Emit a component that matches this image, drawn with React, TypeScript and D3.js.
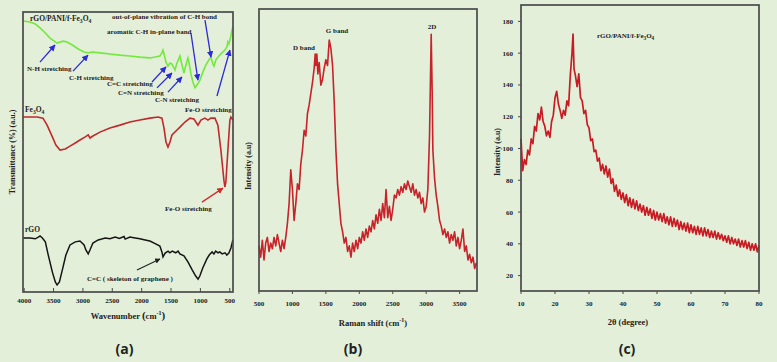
import React, { useEffect, useRef } from 'react'
import * as d3 from 'd3'

// ---- (a) FTIR, [wavenumber cm-1, transmittance a.u.] ----
const ftirComposite: [number, number][] = [
  [4020, 96.8], [3900, 96.4], [3810, 95.7], [3730, 94.3], [3640, 92.5], [3560, 90.7],
  [3470, 89.3], [3440, 88.9], [3390, 89.3], [3340, 89.6], [3270, 89.3], [3180, 88.2],
  [3080, 86.8], [2980, 85.7], [2910, 85.4], [2840, 85.7], [2710, 85.4], [2540, 85.0],
  [2370, 84.6], [2200, 84.3], [2030, 83.9], [1860, 83.6], [1770, 83.9], [1690, 84.3],
  [1655, 85.4], [1637, 86.4], [1620, 85.0], [1586, 82.1], [1552, 80.7], [1518, 81.8],
  [1484, 81.4], [1450, 80.0], [1433, 79.3], [1399, 81.8], [1348, 84.3], [1314, 81.1],
  [1280, 78.2], [1246, 81.1], [1212, 83.6], [1195, 82.1], [1161, 77.9], [1127, 75.0],
  [1093, 72.9], [1059, 73.9], [1008, 75.7], [957, 78.6], [906, 81.1], [855, 82.9],
  [821, 83.9], [787, 81.4], [770, 80.7], [736, 82.9], [685, 84.3], [634, 85.4],
  [583, 86.4], [549, 87.5], [532, 89.3], [515, 88.6], [498, 90.0], [481, 91.4],
  [464, 93.6], [447, 94.6]
]

const ftirFe3O4: [number, number][] = [
  [4020, 62.5], [3900, 62.5], [3780, 62.5], [3680, 62.1], [3610, 59.6], [3520, 55.4],
  [3460, 52.5], [3390, 50.7], [3300, 51.1], [3220, 52.1], [3130, 53.2], [3050, 54.3],
  [2960, 55.4], [2910, 56.1], [2880, 55.0], [2830, 55.7], [2710, 57.1], [2540, 58.6],
  [2370, 59.6], [2200, 60.7], [2030, 61.4], [1860, 62.1], [1720, 62.5], [1655, 62.1],
  [1620, 58.6], [1586, 53.6], [1552, 51.8], [1518, 53.6], [1484, 56.1], [1416, 57.5],
  [1348, 58.9], [1263, 60.7], [1178, 62.1], [1110, 61.8], [1042, 59.6], [991, 61.4],
  [923, 62.1], [872, 61.4], [821, 62.1], [753, 62.1], [702, 59.6], [651, 50.7],
  [600, 40.0], [583, 37.5], [566, 39.3], [532, 50.7], [498, 61.4], [481, 62.5],
  [447, 61.4]
]

const ftirRGO: [number, number][] = [
  [4020, 19.3], [3900, 19.3], [3810, 19.0], [3760, 19.6], [3730, 20.0], [3690, 19.3],
  [3640, 17.9], [3590, 13.2], [3520, 7.1], [3470, 3.6], [3440, 2.5], [3400, 3.6],
  [3350, 7.9], [3290, 13.2], [3220, 16.8], [3130, 17.9], [3050, 18.2], [2980, 16.8],
  [2950, 15.0], [2910, 13.6], [2880, 15.0], [2830, 17.5], [2740, 18.6], [2680, 18.9],
  [2620, 19.3], [2540, 19.0], [2450, 19.6], [2380, 19.1], [2300, 19.8], [2280, 18.9],
  [2200, 19.6], [2110, 19.3], [2030, 19.0], [1940, 18.6], [1860, 18.2], [1770, 17.3],
  [1690, 16.4], [1655, 14.3], [1637, 12.5], [1600, 13.9], [1550, 14.6], [1520, 14.0],
  [1480, 14.6], [1420, 14.0], [1380, 14.6], [1350, 13.6], [1280, 12.9], [1210, 10.7],
  [1140, 7.9], [1080, 5.7], [1040, 4.6], [1010, 5.7], [960, 8.6], [890, 11.8],
  [850, 13.2], [800, 14.3], [770, 13.6], [740, 14.6], [700, 14.0], [670, 14.3],
  [630, 13.6], [580, 14.0], [550, 13.2], [515, 13.9], [480, 15.7], [447, 18.6]
]

const ftirTicks = [4000, 3500, 3000, 2500, 2000, 1500, 1000, 500]

// ---- (b) Raman, [shift cm-1, intensity a.u.] ----
const raman: [number, number][] = [
  [500, 16], [525, 12], [550, 18], [575, 11], [600, 17], [625, 19], [650, 14], [675, 17],
  [700, 15], [725, 19], [750, 16], [775, 20], [800, 17], [825, 14], [850, 18], [875, 15],
  [900, 19], [925, 24], [950, 31], [975, 43], [1000, 36], [1025, 25], [1050, 31], [1075, 38],
  [1100, 36], [1125, 45], [1150, 50], [1175, 57], [1200, 55], [1225, 63], [1250, 66], [1275, 70],
  [1300, 74], [1325, 79], [1340, 84], [1350, 80], [1365, 84], [1380, 77], [1400, 81], [1425, 73],
  [1450, 75], [1475, 79], [1500, 82], [1525, 80], [1550, 89], [1575, 86], [1600, 80], [1625, 67],
  [1650, 50], [1675, 38], [1700, 31], [1725, 24], [1750, 21], [1775, 17], [1800, 19], [1825, 14],
  [1850, 16], [1875, 12], [1900, 17], [1925, 14], [1950, 18], [1975, 15], [2000, 19], [2025, 17],
  [2050, 21], [2075, 18], [2100, 22], [2125, 19], [2150, 23], [2175, 21], [2200, 25], [2225, 22],
  [2250, 27], [2275, 24], [2300, 29], [2325, 25], [2350, 31], [2375, 26], [2400, 36], [2425, 26],
  [2450, 30], [2475, 25], [2500, 29], [2525, 34], [2550, 33], [2575, 36], [2600, 34], [2625, 37],
  [2650, 35], [2675, 38], [2700, 36], [2725, 39], [2750, 37], [2775, 35], [2800, 38], [2825, 34],
  [2850, 36], [2875, 33], [2900, 35], [2925, 31], [2950, 33], [2975, 28], [3000, 30], [3025, 36],
  [3050, 55], [3075, 91], [3090, 70], [3100, 50], [3125, 40], [3150, 34], [3175, 30], [3200, 25],
  [3225, 23], [3250, 20], [3275, 22], [3300, 19], [3325, 21], [3350, 17], [3375, 20], [3400, 18],
  [3425, 21], [3450, 16], [3475, 19], [3500, 15], [3525, 18], [3550, 22], [3575, 14], [3600, 16],
  [3625, 11], [3650, 13], [3675, 10], [3700, 12], [3725, 8], [3750, 10]
]

const ramanTicks = [500, 1000, 1500, 2000, 2500, 3000, 3500]

// ---- (c) XRD, [2theta deg, intensity a.u.] ----
const xrd: [number, number][] = [
  [10, 106], [10.5, 86], [11, 93], [11.5, 90], [12, 99], [12.5, 96], [13, 106], [13.5, 103],
  [14, 114], [14.5, 111], [15, 122], [15.5, 118], [16, 126], [16.5, 117], [17, 114], [17.5, 108],
  [18, 111], [18.5, 107], [19, 117], [19.5, 121], [20, 132], [20.5, 136], [21, 128], [21.5, 124],
  [22, 119], [22.5, 124], [23, 121], [23.5, 130], [24, 127], [24.5, 146], [25, 160], [25.3, 172],
  [25.6, 150], [26, 146], [26.5, 139], [27, 147], [27.5, 132], [28, 130], [28.5, 122], [29, 124],
  [29.5, 115], [30, 113], [30.5, 105], [31, 106], [31.5, 98], [32, 99], [32.5, 92], [33, 94],
  [33.5, 86], [34, 90], [34.5, 84], [35, 89], [35.5, 82], [36, 87], [36.5, 78], [37, 81],
  [37.5, 73], [38, 77], [38.5, 70], [39, 74], [39.5, 68], [40, 72], [40.5, 66], [41, 71],
  [41.5, 64], [42, 69], [42.5, 63], [43, 68], [43.5, 62], [44, 67], [44.5, 61], [45, 65],
  [45.5, 60], [46, 64], [46.5, 58], [47, 63], [47.5, 58], [48, 62], [48.5, 56], [49, 61],
  [49.5, 55], [50, 60], [50.5, 55], [51, 59], [51.5, 54], [52, 59], [52.5, 53], [53, 57],
  [53.5, 52], [54, 57], [54.5, 51], [55, 56], [55.5, 51], [56, 55], [56.5, 49], [57, 54],
  [57.5, 49], [58, 53], [58.5, 48], [59, 53], [59.5, 47], [60, 52], [60.5, 47], [61, 51],
  [61.5, 46], [62, 51], [62.5, 46], [63, 50], [63.5, 45], [64, 50], [64.5, 45], [65, 49],
  [65.5, 44], [66, 48], [66.5, 44], [67, 48], [67.5, 43], [68, 47], [68.5, 43], [69, 46],
  [69.5, 42], [70, 45], [70.5, 41], [71, 45], [71.5, 40], [72, 44], [72.5, 40], [73, 43],
  [73.5, 39], [74, 43], [74.5, 38], [75, 42], [75.5, 38], [76, 42], [76.5, 37], [77, 41],
  [77.5, 36], [78, 40], [78.5, 36], [79, 40], [79.5, 35], [80, 39]
]

const xrdXTicks = [10, 20, 30, 40, 50, 60, 70, 80]
const xrdYTicks = [20, 40, 60, 80, 100, 120, 140, 160, 180]

const BG = '#e3efd9'
const FRAME = '#4a4a4a'
const SERIF = '"Liberation Serif", "DejaVu Serif", serif'

function frame(g: any, x0: number, y0: number, x1: number, y1: number) {
  g.append('rect')
    .attr('x', x0).attr('y', y0)
    .attr('width', x1 - x0).attr('height', y1 - y0)
    .attr('fill', 'none')
    .attr('stroke', FRAME)
    .attr('stroke-width', 1.7)
}

function label(g: any, x: number, y: number, txt: string, size: number, anchor = 'start', color = '#222') {
  return g.append('text')
    .attr('x', x).attr('y', y)
    .attr('font-family', SERIF)
    .attr('font-weight', 'bold')
    .attr('font-size', size)
    .attr('text-anchor', anchor)
    .attr('fill', color)
    .text(txt)
}

// text with Fe3O4 style subscripts: parts alternate normal / subscript
function chem(g: any, x: number, y: number, parts: string[], size: number, anchor = 'start') {
  const t = g.append('text')
    .attr('x', x).attr('y', y)
    .attr('font-family', SERIF)
    .attr('font-weight', 'bold')
    .attr('font-size', size)
    .attr('text-anchor', anchor)
    .attr('fill', '#222')
  parts.forEach((p, i) => {
    const sub = i % 2 === 1
    t.append('tspan')
      .attr('font-size', sub ? size * 0.75 : size)
      .attr('dy', sub ? size * 0.3 : (i === 0 ? 0 : -size * 0.3))
      .text(p)
  })
  return t
}

export default function App() {
  const ref = useRef<SVGSVGElement>(null)

  useEffect(() => {
    const svg = d3.select(ref.current)
    svg.selectAll('*').remove()

    svg.append('rect').attr('width', 777).attr('height', 362).attr('fill', BG)

    const defs = svg.append('defs')
    const mk = (id: string, color: string) =>
      defs.append('marker')
        .attr('id', id)
        .attr('viewBox', '0 0 10 10')
        .attr('refX', 9).attr('refY', 5)
        .attr('markerWidth', 5).attr('markerHeight', 5)
        .attr('orient', 'auto')
        .append('path').attr('d', 'M0,0 L10,5 L0,10 z').attr('fill', color)
    mk('ah-blue', '#2b2bd6')
    mk('ah-red', '#d02a2a')
    mk('ah-black', '#222')

    // ===================== (a) FTIR =====================
    const ga = svg.append('g')
    const xA = d3.scaleLinear().domain([4020, 445]).range([23, 233])
    const yA = d3.scaleLinear().domain([0, 100]).range([292, 12])
    const lineA = d3.line<[number, number]>().x(d => xA(d[0])).y(d => yA(d[1]))

    ga.append('path').datum(ftirComposite).attr('d', lineA)
      .attr('fill', 'none').attr('stroke', '#72ea3c').attr('stroke-width', 1.6)
    ga.append('path').datum(ftirFe3O4).attr('d', lineA)
      .attr('fill', 'none').attr('stroke', '#c2282c').attr('stroke-width', 1.6)
    ga.append('path').datum(ftirRGO).attr('d', lineA)
      .attr('fill', 'none').attr('stroke', '#151515').attr('stroke-width', 1.5)

    frame(ga, 23, 12, 233, 292)
    ftirTicks.forEach(t => {
      ga.append('line').attr('x1', xA(t)).attr('x2', xA(t)).attr('y1', 292).attr('y2', 288)
        .attr('stroke', FRAME).attr('stroke-width', 1)
      label(ga, xA(t), 303, String(t), 7, 'middle')
    })
    const wl = label(ga, 128, 319, 'Wavenumber ', 8.5, 'middle')
    wl.append('tspan').attr('font-size', 11).text('(')
    wl.append('tspan').text('cm')
    wl.append('tspan').attr('font-size', 6).attr('dy', -4).text('-1')
    wl.append('tspan').attr('font-size', 11).attr('dy', 4).text(')')
    label(ga, 0, 0, 'Transmittance (%) (a.u.)', 8, 'middle')
      .attr('transform', 'translate(15,152) rotate(-90)')

    chem(ga, 30, 21, ['rGO/PANI/f-Fe', '3', 'O', '4'], 7.5)
    chem(ga, 25, 112, ['Fe', '3', 'O', '4'], 7.5)
    label(ga, 25, 232, 'rGO', 7.5)
    label(ga, 112, 19, 'out-of-plane vibration of C-H bond', 7)
    label(ga, 107, 34, 'aromatic C-H in-plane band', 7)
    label(ga, 27, 71, 'N-H stretching', 7)
    label(ga, 69, 80, 'C-H stretching', 7)
    label(ga, 107, 86, 'C=C stretching', 7)
    label(ga, 118, 95, 'C=N stretching', 7)
    label(ga, 155, 102, 'C-N stretching', 7)
    label(ga, 185, 112, 'Fe-O stretching', 7)
    label(ga, 165, 211, 'Fe-O stretching', 7)
    label(ga, 87, 281, 'C=C ( skeleton of graphene )', 7)

    // arrows: [wTail, vTail, wHead, vHead]
    const blueArrows: [number, number, number, number][] = [
      [3731, 82.1, 3475, 88.2],
      [3169, 78.9, 2914, 84.6],
      [1824, 75.0, 1586, 80.4],
      [1739, 72.9, 1484, 78.2],
      [1552, 71.4, 1314, 76.8],
      [1161, 92.5, 1042, 75.7],
      [922, 97.1, 820, 83.9],
      [718, 70.0, 497, 86.4]
    ]
    blueArrows.forEach(a => {
      ga.append('line')
        .attr('x1', xA(a[0])).attr('y1', yA(a[1]))
        .attr('x2', xA(a[2])).attr('y2', yA(a[3]))
        .attr('stroke', '#2b2bd6').attr('stroke-width', 1.3)
        .attr('marker-end', 'url(#ah-blue)')
    })
    ga.append('line')
      .attr('x1', xA(973)).attr('y1', yA(32.1))
      .attr('x2', xA(616)).attr('y2', yA(37.1))
      .attr('stroke', '#d02a2a').attr('stroke-width', 1.3)
      .attr('marker-end', 'url(#ah-red)')
    ga.append('line')
      .attr('x1', xA(2080)).attr('y1', yA(7.9))
      .attr('x2', xA(1688)).attr('y2', yA(11.8))
      .attr('stroke', '#222').attr('stroke-width', 1.1)
      .attr('marker-end', 'url(#ah-black)')

    // ===================== (b) Raman =====================
    const gb = svg.append('g')
    const xB = d3.scaleLinear().domain([500, 3760]).range([259, 477])
    const yB = d3.scaleLinear().domain([0, 100]).range([291, 9])
    const lineB = d3.line<[number, number]>().x(d => xB(d[0])).y(d => yB(d[1]))
    gb.append('path').datum(raman).attr('d', lineB)
      .attr('fill', 'none').attr('stroke', '#c8222a').attr('stroke-width', 1.6)
      .attr('stroke-linejoin', 'round')
    frame(gb, 259, 9, 477, 291)
    ramanTicks.forEach(t => {
      gb.append('line').attr('x1', xB(t)).attr('x2', xB(t)).attr('y1', 291).attr('y2', 294)
        .attr('stroke', FRAME).attr('stroke-width', 1)
      label(gb, xB(t), 306, String(t), 7, 'middle')
    })
    const rl = label(gb, 373, 326, 'Raman shift (cm', 8.5, 'middle')
    rl.append('tspan').attr('font-size', 6).attr('dy', -4).text('-1')
    rl.append('tspan').attr('dy', 4).text(')')
    label(gb, 0, 0, 'Intensity (a.u)', 8, 'middle')
      .attr('transform', 'translate(251,166) rotate(-90)')
    label(gb, 304, 50, 'D band', 7, 'middle')
    label(gb, 337, 33, 'G band', 7, 'middle')
    label(gb, 432, 29, '2D', 7, 'middle')

    // ===================== (c) XRD =====================
    const gc = svg.append('g')
    const xC = d3.scaleLinear().domain([10, 80]).range([521, 759])
    const yC = d3.scaleLinear().domain([10, 190]).range([291.5, 5.5])
    const lineC = d3.line<[number, number]>().x(d => xC(d[0])).y(d => yC(d[1]))
    gc.append('path').datum(xrd).attr('d', lineC)
      .attr('fill', 'none').attr('stroke', '#c81c24').attr('stroke-width', 1.7)
      .attr('stroke-linejoin', 'round')
    frame(gc, 521, 5, 759, 291)
    xrdXTicks.forEach(t => {
      gc.append('line').attr('x1', xC(t)).attr('x2', xC(t)).attr('y1', 291).attr('y2', 294)
        .attr('stroke', FRAME).attr('stroke-width', 1)
      label(gc, xC(t), 306, String(t), 7, 'middle')
    })
    xrdYTicks.forEach(t => {
      gc.append('line').attr('x1', 518).attr('x2', 521).attr('y1', yC(t)).attr('y2', yC(t))
        .attr('stroke', FRAME).attr('stroke-width', 1)
      label(gc, 513, yC(t) + 2.5, String(t), 7, 'end')
    })
    label(gc, 628, 325, '2\u03b8 (degree)', 8.5, 'middle')
    label(gc, 0, 0, 'Intensity (a.u)', 8, 'middle')
      .attr('transform', 'translate(500,152) rotate(-90)')
    chem(gc, 597, 38, ['rGO/PANI/f-Fe', '3', 'O', '4'], 7)

    // panel letters
    const letters: [string, number][] = [['(a)', 124.5], ['(b)', 353], ['(c)', 627]]
    letters.forEach(([s, x]) => {
      svg.append('text')
        .attr('x', x).attr('y', 354)
        .attr('text-anchor', 'middle')
        .attr('font-family', '"Open Sans", "DejaVu Sans", sans-serif')
        .attr('font-weight', 'bold')
        .attr('font-size', 14)
        .attr('fill', '#222')
        .text(s)
    })
  }, [])

  return (
    <svg
      ref={ref}
      width={777}
      height={362}
      style={{ position: 'absolute', left: 0, top: 0, display: 'block' }}
    />
  )
}
